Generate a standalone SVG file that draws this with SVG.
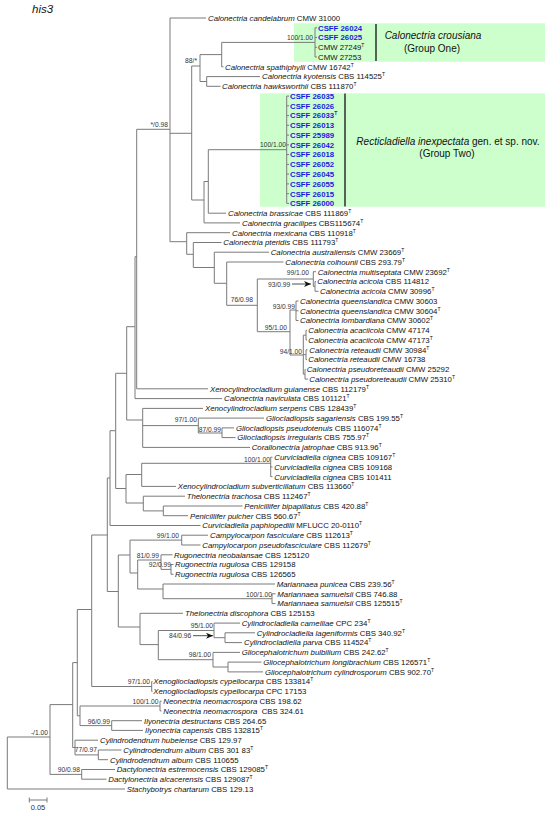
<svg xmlns="http://www.w3.org/2000/svg" width="550" height="814" viewBox="0 0 550 814">
<style>
.l{font-family:"Liberation Sans",Arial,sans-serif;font-size:7.8px;fill:#111}
.i{font-style:italic}
.b{font-weight:bold;fill:#1a1ae6}
.sup{font-size:5px}
.s{font-family:"Liberation Sans",Arial,sans-serif;font-size:6.7px;fill:#333;text-anchor:end}
.sl{font-family:"Liberation Sans",Arial,sans-serif;font-size:6.7px;fill:#333}
.br{stroke:#7a7a7a;stroke-width:1;fill:none}
.box{fill:#ccffcc}
.bar{stroke:#222;stroke-width:1.4}
.g{font-family:"Liberation Sans",Arial,sans-serif;font-size:10px;fill:#111;text-anchor:middle}
.ar{stroke:#222;stroke-width:0.8;fill:none}
</style>
<defs>
<marker id="ah" markerUnits="userSpaceOnUse" markerWidth="8" markerHeight="6" refX="7" refY="3" orient="auto">
<path d="M0,0L7,3L0,6L2,3z" fill="#111"/>
</marker>
</defs>
<rect width="550" height="814" fill="#fff"/>
<text x="32" y="13" font-family="Liberation Sans, Arial, sans-serif" font-size="11.5" font-style="italic" fill="#111">his3</text>

<g id="groups">
<rect class="box" x="294" y="23.3" width="251" height="38.4"/>
<line class="bar" x1="376" y1="24" x2="376" y2="61"/>
<text class="g" x="433" y="38.5"><tspan class="i">Calonectria crousiana</tspan></text>
<text class="g" x="432" y="52">(Group One)</text>
<rect class="box" x="260" y="93.3" width="285" height="113.4"/>
<line class="bar" x1="345" y1="93.5" x2="345" y2="206.5"/>
<text class="g" x="448" y="145"><tspan class="i">Recticladiella inexpectata</tspan> gen. et sp. nov.</text>
<text class="g" x="447" y="157">(Group Two)</text>
</g>

<g id="connectors" class="br">
<path d="M7.3,737V789M7.3,737H50M7.3,789H125"/>
<path d="M50,704.6V774.4M50,704.6H72.7M50,774.4H81.7"/>
<path d="M81.7,769.5V779.2M81.7,769.5H115M81.7,779.2H106.5"/>
<path d="M72.7,662.6V747.5M72.7,662.6H77.3M72.7,747.5H75"/>
<path d="M75,740.2V754.9M75,740.2H98M75,754.9H98.3"/>
<path d="M98.3,750V759.7M98.3,750H121.5M98.3,759.7H108"/>
<path d="M77.3,609.5V715.8M77.3,609.5H91.7M77.3,715.8H80"/>
<path d="M80,706V725.6M80,706H160M80,725.6H111.7"/>
<path d="M160,701.2V710.9M160,701.2H161.5M160,710.9H161.5"/>
<path d="M111.7,720.7V730.4M111.7,720.7H142M111.7,730.4H143"/>
<path d="M91.7,535V686.5M91.7,535H107.3M91.7,686.5H151.7"/>
<path d="M151.7,681.6V691.4M151.7,681.6H152.5M151.7,691.4H152.5"/>
<path d="M107.3,478V591.5M107.3,478H110M107.3,591.5H118.3"/>
<path d="M110,430.7V525.5M110,430.7H115.7M110,525.5H200.5"/>
<path d="M115.7,373.3V488.5M115.7,373.3H126.7M115.7,488.5H126"/>
<path d="M126,474.5V503M126,474.5H141.7M126,503H143.3"/>
<path d="M141.7,463.3V486.4M141.7,463.3H270.7M141.7,486.4H176"/>
<path d="M270.7,457.2V476.7M270.7,457.2H272.5M270.7,466.9H272.5M270.7,476.7H272.5"/>
<path d="M143.3,496.2V510.9M143.3,496.2H185M143.3,510.9H163.3"/>
<path d="M163.3,506V515.7M163.3,506H242.5M163.3,515.7H188"/>
<path d="M126.7,326.7V420M126.7,326.7H135M126.7,420H142.7"/>
<path d="M142.7,408.4V447.4M142.7,408.4H203M142.7,447.4H250M142.7,425.6H198.3"/>
<path d="M198.3,418.1V433M198.3,418.1H264M198.3,433H222"/>
<path d="M222,427.9V437.6M222,427.9H234M222,437.6H235.5"/>
<path d="M135,256.7V398.6M135,256.7H136.7M135,398.6H222"/>
<path d="M136.7,129.3V388.8M136.7,129.3H170M136.7,388.8H208"/>
<path d="M170,18V241.7M170,18H206M170,133.3H191.7M170,241.7H186.7"/>
<path d="M191.7,66V200M191.7,66H200M191.7,200H204"/>
<path d="M200,54.6V81.5M200,54.6H221.7M200,81.5H206.7"/>
<path d="M221.7,42.4V66.8M221.7,42.4H315M221.7,66.8H223.5"/>
<path d="M315,27.8V57M315,27.8H317M315,37.5H317M315,47.3H317M315,57H317"/>
<path d="M206.7,76.6V86.3M206.7,76.6H260M206.7,86.3H220.5"/>
<path d="M204,181.5V222.9M204,181.5H208.3M204,222.9H240"/>
<path d="M208.3,149.7V213.2M208.3,149.7H286.7M208.3,213.2H226"/>
<path d="M286.7,96.1V203.4M286.7,96.1H289M286.7,105.8H289M286.7,115.6H289M286.7,125.3H289M286.7,135.1H289M286.7,144.9H289M286.7,154.6H289M286.7,164.4H289M286.7,174.1H289M286.7,183.9H289M286.7,193.7H289M286.7,203.4H289"/>
<path d="M186.7,232.7V254.3M186.7,232.7H230M186.7,254.3H193.3"/>
<path d="M193.3,242.5V267.5M193.3,242.5H221.5M193.3,267.5H214.3"/>
<path d="M214.3,252.2V283.3M214.3,252.2H269M214.3,283.3H226.7"/>
<path d="M226.7,262V305.3M226.7,262H283.5M226.7,305.3H257.3"/>
<path d="M257.3,279V331.7M257.3,279H313.3M257.3,331.7H290"/>
<path d="M313.3,271.7V286.4M313.3,271.7H316M313.3,286.4H315"/>
<path d="M315,281.5V291.3M315,281.5H316M315,291.3H318.5"/>
<path d="M290,310V355M290,310H296M290,355H303.3"/>
<path d="M296,301V320.5M296,301H298.5M296,310.8H298.5M296,320.5H298.5"/>
<path d="M303.3,335.2V374.2M303.3,335.2H306M303.3,354.7H306M303.3,374.2H305"/>
<path d="M306,330.3V340M306,330.3H307M306,340H307"/>
<path d="M306,349.8V359.6M306,349.8H307.5M306,359.6H307"/>
<path d="M305,369.3V379.1M305,369.3H305.5M305,379.1H308"/>
<path d="M118.3,555V627M118.3,555H130M118.3,627H140"/>
<path d="M130,540.1V573M130,540.1H181.7M130,573H137.7"/>
<path d="M181.7,535.2V545M181.7,535.2H208M181.7,545H200.5"/>
<path d="M137.7,560V589M137.7,560H161M137.7,589H163"/>
<path d="M161,554.8V569.4M161,554.8H172.5M161,569.4H171"/>
<path d="M171,564.5V574.3M171,564.5H173.5M171,574.3H173.5"/>
<path d="M163,584V598.7M163,584H275M163,598.7H272"/>
<path d="M272,593.8V603.6M272,593.8H275.5M272,603.6H275.5"/>
<path d="M140,613.3V644.6M140,613.3H183M140,644.6H158.3"/>
<path d="M158.3,630.5V659.7M158.3,630.5H214M158.3,659.7H213"/>
<path d="M214,623.1V637.7M214,623.1H240M214,637.7H225"/>
<path d="M225,632.8V642.6M225,632.8H255M225,642.6H242"/>
<path d="M213,652.4V667M213,652.4H240M213,667H228"/>
<path d="M228,662.1V671.9M228,662.1H261.5M228,671.9H263"/>
</g>

<g id="arrows">
<line class="ar" x1="292" y1="284" x2="311" y2="284" marker-end="url(#ah)"/>
<line class="ar" x1="193" y1="635.7" x2="213" y2="635.7" marker-end="url(#ah)"/>
</g>

<g id="support">
<text class="s" x="313" y="39.5">100/1.00</text>
<text class="s" x="197" y="63">88/*</text>
<text class="s" x="168" y="127">*/0.98</text>
<text class="s" x="286" y="146.5">100/1.00</text>
<text class="s" x="309" y="274.5">99/1.00</text>
<text class="sl" x="268" y="286.5">93/0.99</text>
<text class="s" x="253" y="301.5">76/0.98</text>
<text class="s" x="295" y="308.5">93/0.99</text>
<text class="s" x="287" y="329.5">95/1.00</text>
<text class="s" x="302" y="354">94/1.00</text>
<text class="s" x="197" y="421.5">97/1.00</text>
<text class="s" x="221" y="431.5">87/0.99</text>
<text class="s" x="270" y="461.5">100/1.00</text>
<text class="s" x="179" y="538">99/1.00</text>
<text class="s" x="159" y="557.5">81/0.99</text>
<text class="s" x="171" y="566.5">92/0.99</text>
<text class="s" x="272" y="597">100/1.00</text>
<text class="s" x="213" y="627.5">95/1.00</text>
<text class="sl" x="169" y="638">84/0.96</text>
<text class="s" x="211" y="656.5">98/1.00</text>
<text class="s" x="150" y="684">97/1.00</text>
<text class="s" x="158.5" y="703.5">100/1.00</text>
<text class="s" x="110" y="724">96/0.99</text>
<text class="s" x="48" y="735">-/1.00</text>
<text class="s" x="97" y="752">77/0.97</text>
<text class="s" x="80" y="771.5">90/0.98</text>
</g>

<g id="leaves" class="l">
<g id="n00"><text x="208" y="20.8"><tspan class="i">Calonectria candelabrum</tspan> CMW 31000</text></g>
<g id="n01"><text class="b" x="318" y="30.6">CSFF 26024</text></g>
<g id="n02"><text class="b" x="318" y="40.3">CSFF 26025</text></g>
<g id="n03"><text x="318" y="50.1">CMW 27249<tspan class="sup" dy="-3">T</tspan></text></g>
<g id="n04"><text x="318" y="59.8">CMW 27253</text></g>
<g id="n05"><text x="225" y="69.6"><tspan class="i">Calonectria spathiphylli</tspan> CMW 16742<tspan class="sup" dy="-3">T</tspan></text></g>
<g id="n06"><text x="262" y="79.4"><tspan class="i">Calonectria kyotensis</tspan> CBS 114525<tspan class="sup" dy="-3">T</tspan></text></g>
<g id="n07"><text x="222" y="89.1"><tspan class="i">Calonectria hawksworthii</tspan> CBS 111870<tspan class="sup" dy="-3">T</tspan></text></g>
<g id="n08"><text class="b" x="290" y="98.9">CSFF 26035</text></g>
<g id="n09"><text class="b" x="290" y="108.6">CSFF 26026</text></g>
<g id="n10"><text class="b" x="290" y="118.4">CSFF 26033<tspan class="sup" dy="-3">T</tspan></text></g>
<g id="n11"><text class="b" x="290" y="128.1">CSFF 26013</text></g>
<g id="n12"><text class="b" x="290" y="137.9">CSFF 25989</text></g>
<g id="n13"><text class="b" x="290" y="147.7">CSFF 26042</text></g>
<g id="n14"><text class="b" x="290" y="157.4">CSFF 26018</text></g>
<g id="n15"><text class="b" x="290" y="167.2">CSFF 26052</text></g>
<g id="n16"><text class="b" x="290" y="176.9">CSFF 26045</text></g>
<g id="n17"><text class="b" x="290" y="186.7">CSFF 26055</text></g>
<g id="n18"><text class="b" x="290" y="196.5">CSFF 26015</text></g>
<g id="n19"><text class="b" x="290" y="206.2">CSFF 26000</text></g>
<g id="n20"><text x="228" y="216"><tspan class="i">Calonectria brassicae</tspan> CBS 111869<tspan class="sup" dy="-3">T</tspan></text></g>
<g id="n21"><text x="242" y="225.7"><tspan class="i">Calonectria gracilipes</tspan> CBS115674<tspan class="sup" dy="-3">T</tspan></text></g>
<g id="n22"><text x="232" y="235.5"><tspan class="i">Calonectria mexicana</tspan> CBS 110918<tspan class="sup" dy="-3">T</tspan></text></g>
<g id="n23"><text x="223.3" y="245.3"><tspan class="i">Calonectria pteridis</tspan> CBS 111793<tspan class="sup" dy="-3">T</tspan></text></g>
<g id="n24"><text x="270.7" y="255"><tspan class="i">Calonectria australiensis</tspan> CMW 23669<tspan class="sup" dy="-3">T</tspan></text></g>
<g id="n25"><text x="285.3" y="264.8"><tspan class="i">Calonectria colhounii</tspan> CBS 293.79<tspan class="sup" dy="-3">T</tspan></text></g>
<g id="n26"><text x="317.7" y="274.5"><tspan class="i">Calonectria multiseptata</tspan> CMW 23692<tspan class="sup" dy="-3">T</tspan></text></g>
<g id="n27"><text x="317.3" y="284.3"><tspan class="i">Calonectria acicola</tspan> CBS 114812</text></g>
<g id="n28"><text x="320" y="294.1"><tspan class="i">Calonectria acicola</tspan> CMW 30996<tspan class="sup" dy="-3">T</tspan></text></g>
<g id="n29"><text x="300" y="303.8"><tspan class="i">Calonectria queenslandica</tspan> CMW 30603</text></g>
<g id="n30"><text x="300" y="313.6"><tspan class="i">Calonectria queenslandica</tspan> CMW 30604<tspan class="sup" dy="-3">T</tspan></text></g>
<g id="n31"><text x="300" y="323.3"><tspan class="i">Calonectria lombardiana</tspan> CMW 30602<tspan class="sup" dy="-3">T</tspan></text></g>
<g id="n32"><text x="308.3" y="333.1"><tspan class="i">Calonectria acaciicola</tspan> CMW 47174</text></g>
<g id="n33"><text x="308.3" y="342.8"><tspan class="i">Calonectria acaciicola</tspan> CMW 47173<tspan class="sup" dy="-3">T</tspan></text></g>
<g id="n34"><text x="309.3" y="352.6"><tspan class="i">Calonectria reteaudii</tspan> CMW 30984<tspan class="sup" dy="-3">T</tspan></text></g>
<g id="n35"><text x="308.3" y="362.4"><tspan class="i">Calonectria reteaudii</tspan> CMW 16738</text></g>
<g id="n36"><text x="306.7" y="372.1"><tspan class="i">Calonectria pseudoreteaudii</tspan> CMW 25292</text></g>
<g id="n37"><text x="309.3" y="381.9"><tspan class="i">Calonectria pseudoreteaudii</tspan> CMW 25310<tspan class="sup" dy="-3">T</tspan></text></g>
<g id="n38"><text x="210" y="391.6"><tspan class="i">Xenocylindrocladium guianense</tspan> CBS 112179<tspan class="sup" dy="-3">T</tspan></text></g>
<g id="n39"><text x="224" y="401.4"><tspan class="i">Calonectria naviculata</tspan> CBS 101121<tspan class="sup" dy="-3">T</tspan></text></g>
<g id="n40"><text x="205" y="411.2"><tspan class="i">Xenocylindrocladium serpens</tspan> CBS 128439<tspan class="sup" dy="-3">T</tspan></text></g>
<g id="n41"><text x="266" y="420.9"><tspan class="i">Gliocladiopsis sagariensis</tspan> CBS 199.55<tspan class="sup" dy="-3">T</tspan></text></g>
<g id="n42"><text x="236" y="430.7"><tspan class="i">Gliocladiopsis pseudotenuis</tspan> CBS 116074<tspan class="sup" dy="-3">T</tspan></text></g>
<g id="n43"><text x="237.3" y="440.4"><tspan class="i">Gliocladiopsis irregularis</tspan> CBS 755.97<tspan class="sup" dy="-3">T</tspan></text></g>
<g id="n44"><text x="251.7" y="450.2"><tspan class="i">Corallonectria jatrophae</tspan> CBS 913.96<tspan class="sup" dy="-3">T</tspan></text></g>
<g id="n45"><text x="274.3" y="460"><tspan class="i">Curvicladiella cignea</tspan> CBS 109167<tspan class="sup" dy="-3">T</tspan></text></g>
<g id="n46"><text x="274.3" y="469.7"><tspan class="i">Curvicladiella cignea</tspan> CBS 109168</text></g>
<g id="n47"><text x="274.3" y="479.5"><tspan class="i">Curvicladiella cignea</tspan> CBS 101411</text></g>
<g id="n48"><text x="177.7" y="489.2"><tspan class="i">Xenocylindrocladium subverticillatum</tspan> CBS 113660<tspan class="sup" dy="-3">T</tspan></text></g>
<g id="n49"><text x="186.7" y="499"><tspan class="i">Thelonectria trachosa</tspan> CBS 112467<tspan class="sup" dy="-3">T</tspan></text></g>
<g id="n50"><text x="244.3" y="508.8"><tspan class="i">Penicillifer bipapillatus</tspan> CBS 420.88<tspan class="sup" dy="-3">T</tspan></text></g>
<g id="n51"><text x="190" y="518.5"><tspan class="i">Penicillifer pulcher</tspan> CBS 560.67<tspan class="sup" dy="-3">T</tspan></text></g>
<g id="n52"><text x="202.3" y="528.3"><tspan class="i">Curvicladiella paphiopedilii</tspan> MFLUCC 20-0110<tspan class="sup" dy="-3">T</tspan></text></g>
<g id="n53"><text x="210" y="538"><tspan class="i">Campylocarpon fasciculare</tspan> CBS 112613<tspan class="sup" dy="-3">T</tspan></text></g>
<g id="n54"><text x="202.3" y="547.8"><tspan class="i">Campylocarpon pseudofasciculare</tspan> CBS 112679<tspan class="sup" dy="-3">T</tspan></text></g>
<g id="n55"><text x="174" y="557.6"><tspan class="i">Rugonectria neobalansae</tspan> CBS 125120</text></g>
<g id="n56"><text x="175" y="567.3"><tspan class="i">Rugonectria rugulosa</tspan> CBS 129158</text></g>
<g id="n57"><text x="175" y="577.1"><tspan class="i">Rugonectria rugulosa</tspan> CBS 126565</text></g>
<g id="n58"><text x="276.7" y="586.8"><tspan class="i">Mariannaea punicea</tspan> CBS 239.56<tspan class="sup" dy="-3">T</tspan></text></g>
<g id="n59"><text x="277.3" y="596.6"><tspan class="i">Mariannaea samuelsii</tspan> CBS 746.88</text></g>
<g id="n60"><text x="277.3" y="606.4"><tspan class="i">Mariannaea samuelsii</tspan> CBS 125515<tspan class="sup" dy="-3">T</tspan></text></g>
<g id="n61"><text x="185" y="616.1"><tspan class="i">Thelonectria discophora</tspan> CBS 125153</text></g>
<g id="n62"><text x="241.7" y="625.9"><tspan class="i">Cylindrocladiella camelliae</tspan> CPC 234<tspan class="sup" dy="-3">T</tspan></text></g>
<g id="n63"><text x="256.7" y="635.6"><tspan class="i">Cylindrocladiella lageniformis</tspan> CBS 340.92<tspan class="sup" dy="-3">T</tspan></text></g>
<g id="n64"><text x="244" y="645.4"><tspan class="i">Cylindrocladiella parva</tspan> CBS 114524<tspan class="sup" dy="-3">T</tspan></text></g>
<g id="n65"><text x="241.7" y="655.2"><tspan class="i">Gliocephalotrichum bulbilium</tspan> CBS 242.62<tspan class="sup" dy="-3">T</tspan></text></g>
<g id="n66"><text x="263.3" y="664.9"><tspan class="i">Gliocephalotrichum longibrachium</tspan> CBS 126571<tspan class="sup" dy="-3">T</tspan></text></g>
<g id="n67"><text x="265" y="674.7"><tspan class="i">Gliocephalotrichum cylindrosporum</tspan> CBS 902.70<tspan class="sup" dy="-3">T</tspan></text></g>
<g id="n68"><text x="153.3" y="684.4"><tspan class="i">Xenogliocladiopsis cypellocarpa</tspan> CBS 133814<tspan class="sup" dy="-3">T</tspan></text></g>
<g id="n69"><text x="153.3" y="694.2"><tspan class="i">Xenogliocladiopsis cypellocarpa</tspan> CPC 17153</text></g>
<g id="n70"><text x="163.3" y="704"><tspan class="i">Neonectria neomacrospora</tspan> CBS 198.62</text></g>
<g id="n71"><text x="163.3" y="713.7"><tspan class="i">Neonectria neomacrospora</tspan>&#160; CBS 324.61</text></g>
<g id="n72"><text x="144" y="723.5"><tspan class="i">Ilyonectria destructans</tspan> CBS 264.65</text></g>
<g id="n73"><text x="145" y="733.2"><tspan class="i">Ilyonectria capensis</tspan> CBS 132815<tspan class="sup" dy="-3">T</tspan></text></g>
<g id="n74"><text x="100" y="743"><tspan class="i">Cylindrodendrum hubeiense</tspan> CBS 129.97</text></g>
<g id="n75"><text x="123.3" y="752.8"><tspan class="i">Cylindrodendrum album</tspan> CBS 301 83<tspan class="sup" dy="-3">T</tspan></text></g>
<g id="n76"><text x="110" y="762.5"><tspan class="i">Cylindrodendrum album</tspan> CBS 110655</text></g>
<g id="n77"><text x="116.7" y="772.3"><tspan class="i">Dactylonectria estremocensis</tspan> CBS 129085<tspan class="sup" dy="-3">T</tspan></text></g>
<g id="n78"><text x="108.3" y="782"><tspan class="i">Dactylonectria alcacerensis</tspan> CBS 129087<tspan class="sup" dy="-3">T</tspan></text></g>
<g id="n79"><text x="126.7" y="791.8"><tspan class="i">Stachybotrys chartarum</tspan> CBS 129.13</text></g>
</g>

<g id="scale">
<path class="br" d="M29.3,800H47M29.3,797.5V802.5M47,797.5V802.5"/>
<text x="38" y="810" font-family="Liberation Sans, Arial, sans-serif" font-size="7.5" fill="#333" text-anchor="middle">0.05</text>
</g>
</svg>
